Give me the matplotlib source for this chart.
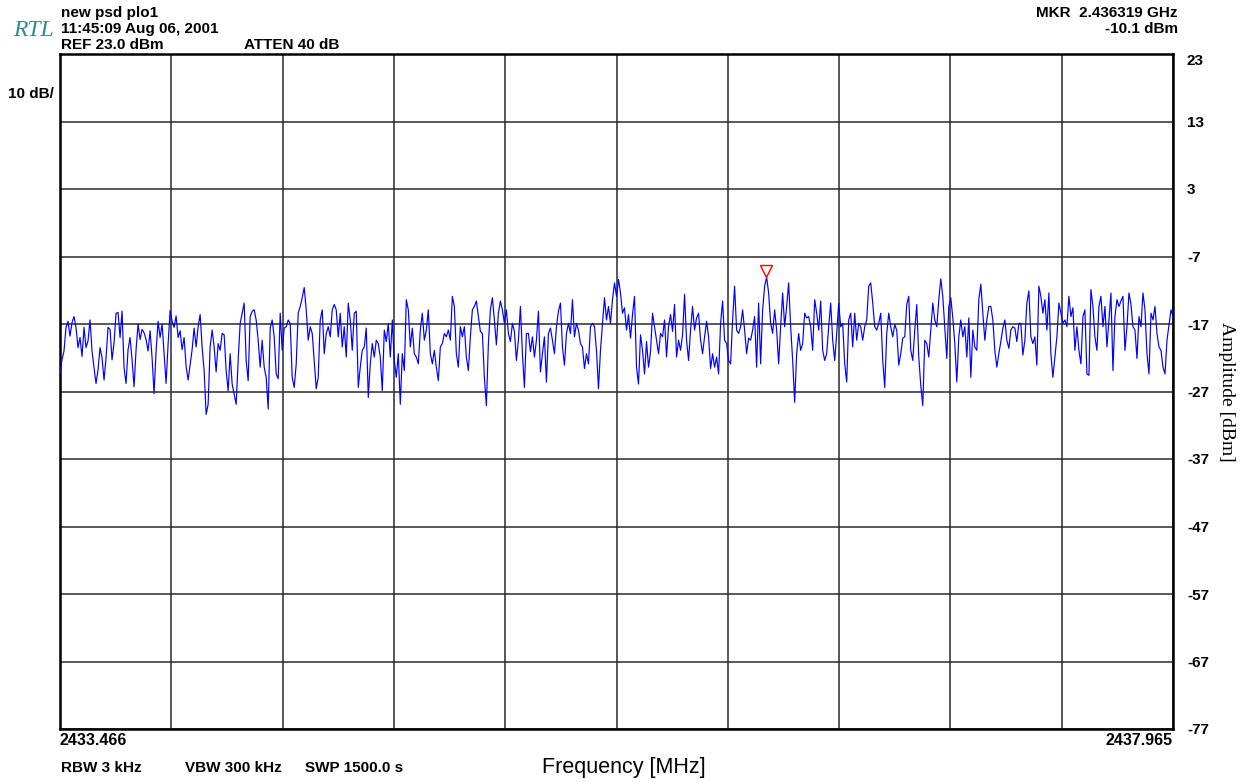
import numpy as np
import matplotlib
matplotlib.use('Agg')
import matplotlib.pyplot as plt
from matplotlib.transforms import offset_copy

# sweep settings
f_start = 2433.466
f_stop = 2437.965
mkr_freq = 2436.319
mkr_level = -10.1
y_ticks = [23, 13, 3, -7, -17, -27, -37, -47, -57, -67, -77]

# trace samples (dBm), left to right
trace_dbm = [
    -24.3, -22.3, -21.0, -17.5, -16.6, -18.8, -16.8, -15.9, -17.5, -20.5,
    -19.0, -21.8, -17.5, -20.5, -19.5, -16.4, -21.0, -23.5, -25.8, -23.8,
    -20.5, -22.0, -25.3, -22.0, -17.5, -17.8, -22.3, -19.8, -15.4, -15.3,
    -19.0, -15.1, -23.5, -25.8, -20.8, -19.0, -22.3, -26.3, -20.8, -17.0,
    -19.3, -17.8, -18.3, -19.3, -21.0, -18.0, -22.0, -27.3, -21.0, -16.6,
    -19.0, -17.0, -21.5, -25.8, -20.0, -15.0, -16.6, -17.5, -15.8, -19.0,
    -18.0, -20.8, -19.0, -23.3, -25.3, -23.0, -20.8, -17.6,
    -20.4, -17.4, -15.6, -20.4, -23.9, -30.4, -28.9, -20.4, -17.9, -20.4,
    -24.1, -19.9, -20.9, -18.4, -18.6, -23.9, -26.9, -21.4, -25.9, -27.4,
    -28.9, -22.4, -16.9, -15.4, -13.9, -22.4, -25.4, -15.9, -15.1, -14.9,
    -16.4, -19.4, -23.4, -19.4, -23.4, -24.9, -29.6, -17.6, -16.4, -18.9,
    -24.4, -25.1, -15.4, -20.9, -17.6, -17.4, -16.4, -16.9, -24.9, -26.4,
    -22.9, -15.4, -14.4, -13.1, -11.6, -14.9, -19.4, -17.4, -18.4, -22.4,
    -26.6, -24.9, -16.4, -14.9, -21.4, -18.4, -17.4, -18.9, -14.9, -14.1,
    -14.9, -18.9, -15.4, -20.4, -17.4, -21.9, -13.9, -16.4, -20.9, -15.4,
    -15.1, -26.4, -23.4, -20.9, -20.4, -17.6, -27.9, -22.9, -19.9, -21.9,
    -19.4, -19.9, -21.9, -26.9, -17.9, -19.6, -16.9, -21.9, -16.4, -22.4,
    -24.9, -21.4, -28.9, -21.4, -23.9, -13.4, -14.9, -20.4, -17.6, -21.4,
    -21.9, -22.9, -17.9, -15.4, -19.4, -17.9, -14.9, -21.4, -22.9, -20.9,
    -23.4, -25.4, -20.4, -19.9, -18.4, -18.9, -17.9, -19.4, -12.9, -14.4,
    -21.4, -23.4, -17.4, -18.9, -17.4, -21.9, -23.9, -18.9, -14.9, -14.4,
    -13.6, -15.9, -18.1, -18.4, -24.9, -29.1, -19.9, -14.9, -13.1, -16.4,
    -20.1, -15.4, -13.6, -14.9, -16.9, -14.9, -18.4, -19.6, -16.9, -18.1,
    -22.4, -19.4, -14.4, -21.4, -26.4, -18.4, -18.4, -21.1, -18.9, -21.9,
    -19.4, -15.1, -24.1, -21.4, -18.9, -25.6, -18.4, -17.6, -19.4, -21.4,
    -17.4, -15.1, -13.9, -20.4, -23.1, -18.4, -16.9, -18.4, -13.4, -18.9,
    -16.9, -17.9, -19.9, -20.4, -23.6, -21.4, -22.9, -17.4, -16.9, -17.4,
    -20.9, -26.6, -20.9, -16.9, -13.1, -16.4, -14.4, -16.9, -13.4, -10.9,
    -12.9, -10.4, -12.4, -15.4, -14.6, -17.9, -15.6, -19.1, -15.6, -12.9,
    -23.4, -25.9, -18.6, -20.9, -24.4, -19.6, -23.4, -21.1, -15.4, -17.4,
    -19.4, -21.4, -18.4, -18.9, -16.4, -21.9, -17.4, -15.6, -18.1, -14.1,
    -21.9, -19.4, -20.9, -18.6, -12.6, -19.4, -22.4, -17.9, -14.4, -17.9,
    -16.1, -15.4, -19.4, -21.4, -18.9, -16.6, -18.9, -23.6, -21.4, -23.4,
    -21.9, -24.4, -16.9, -13.6, -19.4, -19.9, -22.4, -22.9, -16.4, -11.4,
    -17.9, -18.4, -17.4, -14.9, -17.9, -21.4, -19.1, -19.4, -17.9, -15.9,
    -23.4, -13.9, -22.9, -14.9, -11.4, -10.1, -12.4, -16.9, -18.4, -14.9,
    -17.9, -22.9, -17.4, -12.4, -17.4, -14.4, -10.9, -17.4, -22.4, -28.6,
    -21.4, -18.4, -20.9, -19.9, -15.4, -16.1, -15.9, -17.4, -20.9, -13.4,
    -15.4, -17.9, -13.6, -20.9, -22.4, -21.4, -17.4, -13.9, -19.4, -22.4,
    -18.4, -13.9, -17.4, -16.9, -22.9, -25.6, -16.4, -15.4, -20.4, -15.4,
    -19.4, -16.9, -17.4, -19.4, -17.4, -16.4, -11.4, -10.9, -13.9, -17.4,
    -17.9, -16.9, -15.4, -22.4, -26.4, -18.4, -15.4, -17.4, -18.9, -17.1,
    -17.9, -23.1, -21.4, -19.1, -18.9, -14.1, -12.9, -20.9, -22.4, -17.9,
    -14.1, -21.9, -26.1, -29.1, -19.4, -19.9, -21.9, -17.9, -13.9, -16.4,
    -17.4, -13.4, -10.3, -12.9, -17.4, -22.1, -14.4, -13.1, -16.1, -19.9,
    -25.6, -18.9, -16.4, -18.9, -17.4, -21.9, -16.1, -24.9, -17.9, -20.4,
    -20.9, -13.4, -11.1, -15.4, -19.4, -16.4, -14.4, -14.4, -16.4, -20.9,
    -23.4, -21.4, -19.6, -17.6, -16.4, -19.4, -20.6, -17.9, -17.4, -17.6,
    -19.6, -16.9, -16.9, -21.6, -19.4, -13.9, -12.1, -18.9, -19.9, -18.9,
    -23.1, -11.4, -12.9, -15.4, -13.4, -17.9, -12.4, -21.4, -24.9, -21.9,
    -18.9, -13.9, -15.4, -16.9, -16.4, -17.4, -12.9, -15.9, -14.6, -20.9,
    -17.4, -20.9, -22.9, -15.9, -14.9, -24.4, -24.6, -11.9, -14.4, -18.9,
    -20.9, -14.4, -12.9, -17.4, -14.4, -20.4, -16.4, -12.4, -23.9, -15.9,
    -13.4, -14.4, -13.6, -12.9, -20.9, -17.4, -12.4, -14.1, -17.4, -17.9,
    -22.1, -15.9, -17.4, -12.4, -14.9, -21.4, -24.4, -15.4, -16.4, -14.4,
    -18.4, -20.4, -20.9, -23.4, -24.4, -19.4, -17.1, -14.9, -15.9,
]

freqs = np.linspace(f_start, f_stop, len(trace_dbm))

W, H = 1248, 782
fig = plt.figure(figsize=(W / 100, H / 100), dpi=100)
ax = fig.add_axes([60 / W, 53 / H, 1113 / W, 675 / H])

ax.plot(freqs, trace_dbm, color='#0000ff', lw=0.85, zorder=3)

# marker triangle sitting just above the peak
tr = offset_copy(ax.transData, fig=fig, x=0, y=6, units='dots')
ax.plot([mkr_freq], [mkr_level], marker='v', ms=9, mfc='white', mec='red',
        mew=1.0, transform=tr, zorder=4)

ax.set_xlim(f_start, f_stop)
ax.set_ylim(y_ticks[-1], y_ticks[0])

xt = np.linspace(f_start, f_stop, 11)
ax.set_xticks(xt)
ax.set_xticklabels([f'{f_start:.3f}'] + [''] * 9 + [f'{f_stop:.3f}'])
ax.set_yticks(y_ticks)
ax.set_yticklabels([str(v) for v in y_ticks])
ax.yaxis.tick_right()
ax.tick_params(length=0)
ax.tick_params(axis='y', pad=10)
ax.tick_params(axis='x', pad=3)

bold = dict(family=['Liberation Sans', 'DejaVu Sans'], weight='bold')
for lab in ax.get_yticklabels():
    lab.set_fontproperties(matplotlib.font_manager.FontProperties(size=11, **bold))
    lab.set_horizontalalignment('left')
ax.get_yticklabels()[0].set_verticalalignment('top')
xl = ax.get_xticklabels()
for lab in xl:
    lab.set_fontproperties(matplotlib.font_manager.FontProperties(size=11.5, **bold))
xl[0].set_horizontalalignment('left')
xl[-1].set_horizontalalignment('right')

ax.grid(True, color='#2a2a2a', lw=1.1)
ax.set_axisbelow(True)
for s in ax.spines.values():
    s.set_color('black')
    s.set_linewidth(1.8)


def ftext(x, y, s, **kw):
    fig.text(x / W, 1 - y / H, s, va='center', **kw)


ftext(13, 30, 'RTL', family=['Liberation Serif', 'DejaVu Serif'], style='italic',
      size=17, color='#2a8c8c')
ftext(61, 13, 'new psd plo1', size=11, **bold)
ftext(61, 29, '11:45:09 Aug 06, 2001', size=11, **bold)
ftext(61, 45, 'REF 23.0 dBm', size=11, **bold)
ftext(244, 45, 'ATTEN 40 dB', size=11, **bold)
ftext(8, 94, '10 dB/', size=11, **bold)
ftext(1178, 13, f'MKR  {mkr_freq / 1000:.6f} GHz', size=11, ha='right', **bold)
ftext(1178, 29, f'{mkr_level:.1f} dBm', size=11, ha='right', **bold)

ftext(61, 768, 'RBW 3 kHz', size=11, **bold)
ftext(185, 768, 'VBW 300 kHz', size=11, **bold)
ftext(305, 768, 'SWP 1500.0 s', size=11, **bold)
ftext(624, 768, 'Frequency [MHz]', size=15.5, ha='center',
      family=['Liberation Sans', 'DejaVu Sans'])
ftext(1226, 392, 'Amplitude [dBm]', size=14, ha='center', rotation=270,
      family=['Liberation Serif', 'DejaVu Serif'])

fig.savefig('out.png', dpi=100, facecolor='white')
